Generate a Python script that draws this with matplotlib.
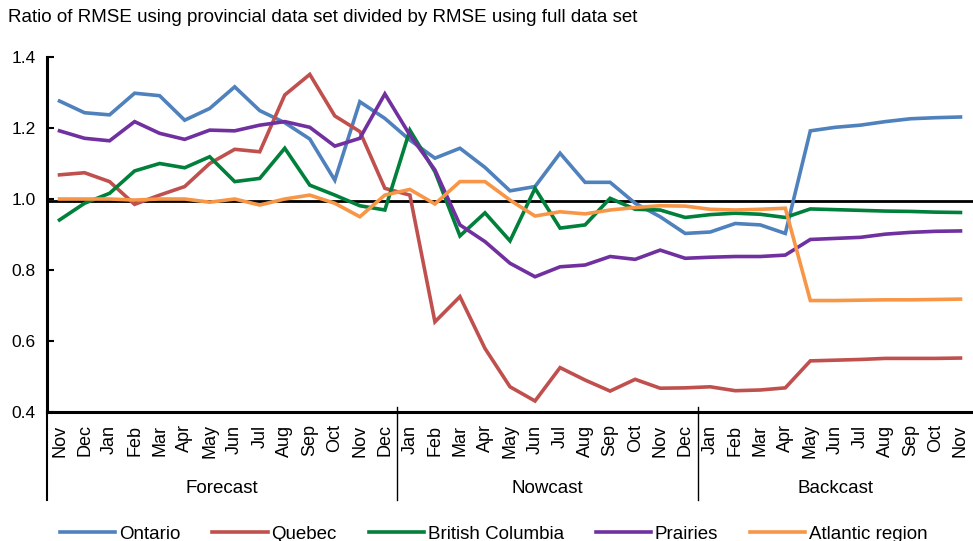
import numpy as np
import matplotlib
matplotlib.use('Agg')
import matplotlib.pyplot as plt

plt.rcParams['font.family'] = ['Liberation Sans', 'DejaVu Sans']

# 月份标签：预测 (Nov..Dec)，即时 (Jan..Dec)，回溯 (Jan..Nov)
months = (['Nov', 'Dec', 'Jan', 'Feb', 'Mar', 'Apr', 'May', 'Jun', 'Jul', 'Aug', 'Sep', 'Oct', 'Nov', 'Dec']
          + ['Jan', 'Feb', 'Mar', 'Apr', 'May', 'Jun', 'Jul', 'Aug', 'Sep', 'Oct', 'Nov', 'Dec']
          + ['Jan', 'Feb', 'Mar', 'Apr', 'May', 'Jun', 'Jul', 'Aug', 'Sep', 'Oct', 'Nov'])
groups = ['Forecast', 'Nowcast', 'Backcast']
group_sizes = [14, 12, 11]

ontario = [1.276, 1.243, 1.237, 1.298, 1.291, 1.222, 1.255, 1.316, 1.249, 1.215, 1.169, 1.053, 1.274, 1.227,
           1.166, 1.115, 1.143, 1.089, 1.023, 1.035, 1.129, 1.047, 1.047, 0.988, 0.950, 0.903,
           0.907, 0.931, 0.927, 0.903, 1.192, 1.202, 1.208, 1.218, 1.226, 1.229, 1.231]
quebec = [1.068, 1.074, 1.049, 0.985, 1.011, 1.035, 1.100, 1.140, 1.133, 1.293, 1.351, 1.234, 1.190, 1.030,
          1.011, 0.654, 0.725, 0.579, 0.471, 0.431, 0.525, 0.490, 0.459, 0.492, 0.467, 0.468,
          0.471, 0.460, 0.462, 0.468, 0.544, 0.546, 0.548, 0.551, 0.551, 0.551, 0.552]
british_columbia = [0.941, 0.988, 1.016, 1.079, 1.100, 1.088, 1.119, 1.049, 1.058, 1.143, 1.039, 1.011, 0.981, 0.969,
                    1.194, 1.077, 0.896, 0.961, 0.882, 1.030, 0.918, 0.927, 1.002, 0.971, 0.969, 0.948,
                    0.956, 0.960, 0.957, 0.948, 0.972, 0.970, 0.968, 0.966, 0.965, 0.963, 0.962]
prairies = [1.192, 1.171, 1.164, 1.218, 1.185, 1.168, 1.194, 1.192, 1.208, 1.218, 1.202, 1.149, 1.171, 1.296,
            1.180, 1.082, 0.927, 0.880, 0.819, 0.781, 0.809, 0.814, 0.838, 0.830, 0.856, 0.833,
            0.836, 0.838, 0.838, 0.842, 0.886, 0.889, 0.892, 0.901, 0.906, 0.909, 0.910]
atlantic = [1.000, 1.000, 1.000, 0.997, 1.000, 1.000, 0.991, 1.000, 0.983, 1.000, 1.011, 0.988, 0.950, 1.011,
            1.027, 0.986, 1.049, 1.049, 0.997, 0.952, 0.964, 0.958, 0.969, 0.976, 0.981, 0.980,
            0.971, 0.969, 0.971, 0.974, 0.714, 0.714, 0.715, 0.716, 0.716, 0.717, 0.718]

series = [
    ('Ontario', ontario, '#4F81BD'),
    ('Quebec', quebec, '#C0504D'),
    ('British Columbia', british_columbia, '#00803A'),
    ('Prairies', prairies, '#7030A0'),
    ('Atlantic region', atlantic, '#F79646'),
]

fig = plt.figure(figsize=(9.73, 5.41), dpi=100)
ax = fig.add_axes([47 / 973, 1 - 412 / 541, 1 - 47 / 973, 355 / 541])

x = np.arange(len(months))
for name, vals, color in series:
    ax.plot(x, vals, color=color, linewidth=2.6, label=name, solid_joinstyle='miter')

ax.axhline(0.995, color='black', linewidth=2.0, zorder=1)

ax.set_xlim(-0.5, len(months) - 0.5)
ax.set_ylim(0.4, 1.4)
ax.set_yticks([0.4, 0.6, 0.8, 1.0, 1.2, 1.4])
ax.set_yticklabels(['0.4', '0.6', '0.8', '1.0', '1.2', '1.4'])
ax.tick_params(axis='y', direction='in', length=5, width=1.5, labelsize=12.5, pad=8)
ax.set_xticks(x)
ax.set_xticklabels(months, rotation=90, fontsize=13)
ax.tick_params(axis='x', length=0, pad=9)

for s in ['top', 'right']:
    ax.spines[s].set_visible(False)
ax.spines['left'].set_linewidth(2.2)
ax.spines['bottom'].set_linewidth(2.2)

# 分组分隔线与分组标签
trans = ax.get_xaxis_transform()
edges = np.concatenate([[0], np.cumsum(group_sizes)]) - 0.5
ax.plot([edges[0], edges[0]], [0, -0.248], transform=trans, color='black', linewidth=1.5, clip_on=False)
for e in edges[1:-1]:
    ax.plot([e, e], [0.015, -0.248], transform=trans, color='black', linewidth=1.0, clip_on=False)
for g, a, b in zip(groups, edges[:-1], edges[1:]):
    ax.text((a + b) / 2, -0.216, g, transform=trans, ha='center', va='center', fontsize=13.5)

fig.text(8 / 973, 1 - 18 / 541, 'Ratio of RMSE using provincial data set divided by RMSE using full data set',
         ha='left', va='center', fontsize=13.5)

fig.legend(loc='center', bbox_to_anchor=(494 / 973, 1 - 534 / 541), ncol=5, frameon=False,
           fontsize=13.5, handlelength=2.95, handletextpad=0.2, columnspacing=1.7)

fig.savefig('out.png', dpi=100)
